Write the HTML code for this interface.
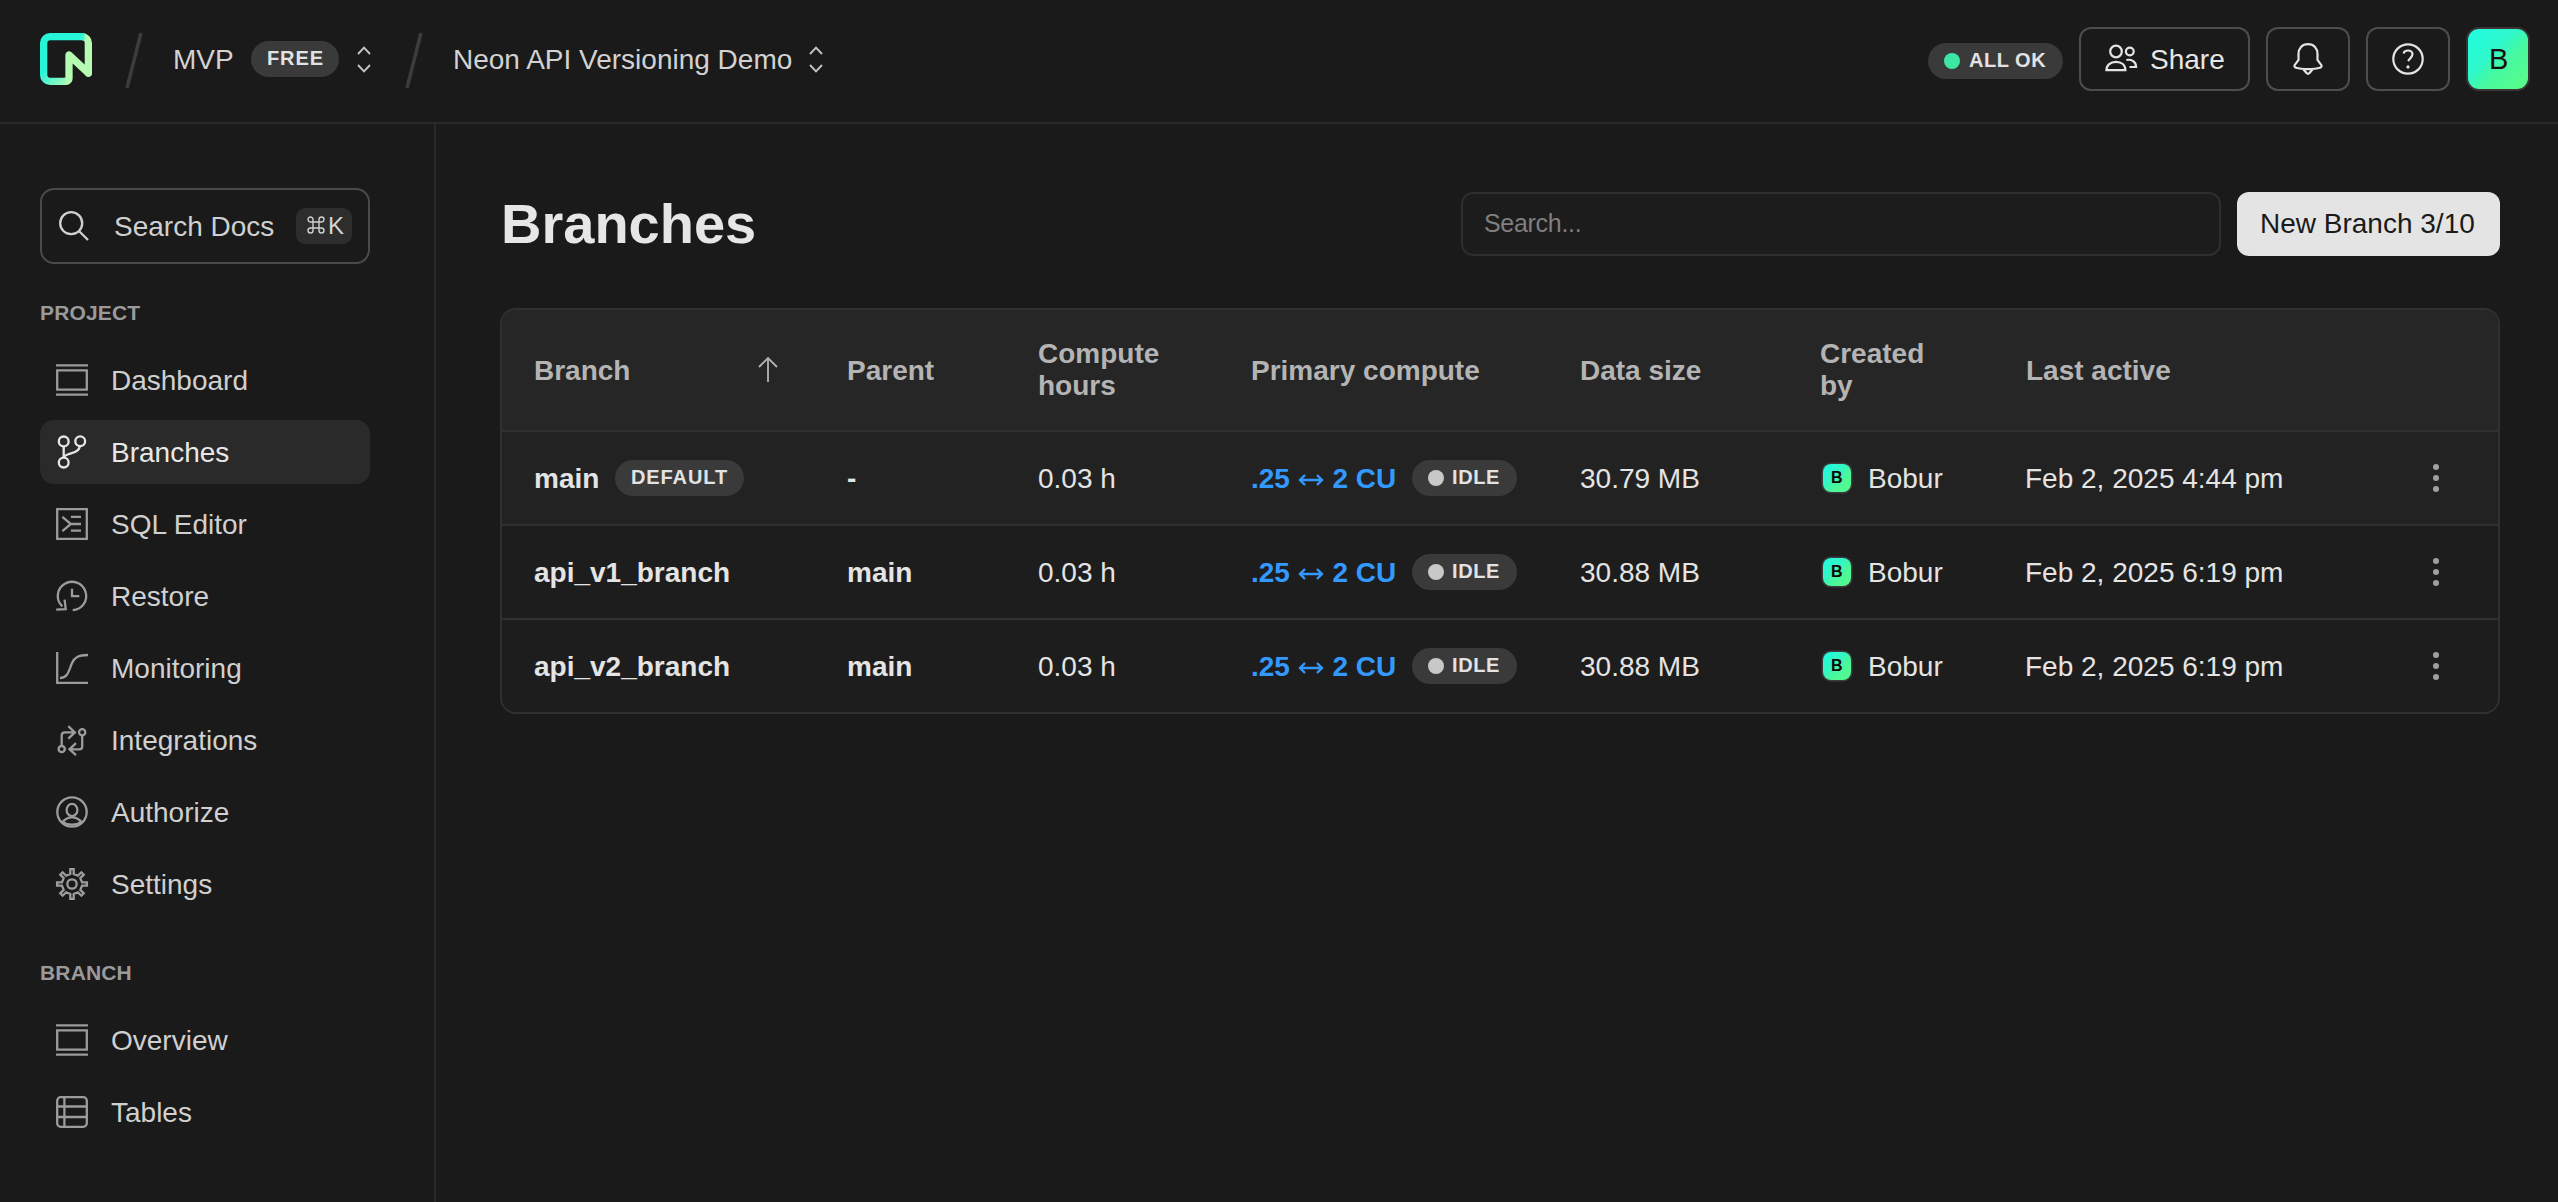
<!DOCTYPE html>
<html><head><meta charset="utf-8"><style>
*{box-sizing:border-box;margin:0;padding:0}
html,body{width:2558px;height:1202px;overflow:hidden;background:#1a1a1a;font-family:"Liberation Sans",sans-serif;color:#e4e4e4}
.abs{position:absolute}
svg{display:block;position:absolute;overflow:visible}
#hdr{position:absolute;left:0;top:0;width:2558px;height:124px;border-bottom:2px solid #2a2a2a}
#side{position:absolute;left:0;top:124px;width:436px;height:1078px;border-right:2px solid #2a2a2a}
.t{position:absolute;white-space:nowrap;line-height:1}
.pill{position:absolute;height:36px;border-radius:18px;background:#3a3a3a}
.bdg{position:absolute;top:8px;font-size:20px;line-height:20px;font-weight:bold;letter-spacing:0.9px;color:#e2e2e2;white-space:nowrap}
.btn{position:absolute;top:27px;height:64px;border:2px solid #4d4d4d;border-radius:12px}
.nav{position:absolute;left:40px;width:330px;height:64px;border-radius:14px}
.nav.act{background:#2a2a2a}
.nav .lbl{position:absolute;left:71px;top:19px;font-size:28px;line-height:28px;color:#d0d0d0;white-space:nowrap}
.nav.act .lbl{color:#e8e8e8}
.nav svg{left:16px;top:16px}
.ic{fill:none;stroke:#9c9c9c;stroke-width:2.3}
.sec{position:absolute;left:40px;font-size:21px;line-height:21px;font-weight:bold;letter-spacing:0.15px;color:#9a9a9a}
.th{position:absolute;font-size:28px;line-height:28px;font-weight:bold;color:#b4b4b4;white-space:nowrap}
.th2{position:absolute;font-size:28px;line-height:32px;font-weight:bold;color:#b4b4b4;white-space:nowrap}
.row{position:absolute;left:0;width:1996px;height:94px;border-bottom:2px solid #303030}
.td{position:absolute;top:33px;font-size:28px;line-height:28px;color:#e4e4e4;white-space:nowrap}
.td.b{font-weight:bold}
.blue{color:#3399ff}
.av{position:absolute;left:1321px;top:32px;width:28px;height:28px;border-radius:8px;background:linear-gradient(135deg,#1ff8e2 0%,#33f6c4 40%,#48f79e 60%,#58fb86 100%);box-shadow:0 0 0 1.5px #3c3c3c}
.dot{position:absolute;left:1931px;width:6px;height:6px;border-radius:3px;background:#a0a0a0}
</style></head><body>
<div id="hdr">
  <svg style="left:40px;top:33px" width="52" height="52" viewBox="0 0 52 52">
    <path d="M42 3.65 A6.35 6.35 0 0 1 48.35 10 V40 L29 22 V45.5 A2.85 2.85 0 0 1 26.15 48.35 H24" fill="none" stroke="#b6fbb2" stroke-width="7.3" stroke-linejoin="round"/>
    <circle cx="48.35" cy="40" r="3.65" fill="#b6fbb2"/>
    <defs><linearGradient id="lgc" gradientUnits="userSpaceOnUse" x1="0" y1="0" x2="52" y2="52"><stop offset="0.40" stop-color="#27f5d8"/><stop offset="0.72" stop-color="#9cf9b8"/></linearGradient></defs><path d="M25.3 48.35 H10 A6.35 6.35 0 0 1 3.65 42 V10 A6.35 6.35 0 0 1 10 3.65 H44.5" fill="none" stroke="url(#lgc)" stroke-width="7.3"/>
  </svg>
  <svg style="left:120px;top:30px" width="28" height="62"><line x1="21" y1="3" x2="7" y2="58" stroke="#3c3c3c" stroke-width="3.5"/></svg>
  <div class="t" style="left:173px;top:46px;font-size:28px;color:#d2d2d2">MVP</div>
  <div class="pill" style="left:251px;top:41px;width:88px"><div class="bdg" style="left:16px;top:7px">FREE</div></div>
  <svg style="left:354px;top:44px" width="20" height="31" viewBox="0 0 20 31"><path d="M4 10 L10 3.6 L16 10 M4 21 L10 27.4 L16 21" fill="none" stroke="#c4c4c4" stroke-width="1.9"/></svg>
  <svg style="left:400px;top:30px" width="28" height="62"><line x1="21" y1="3" x2="7" y2="58" stroke="#3c3c3c" stroke-width="3.5"/></svg>
  <div class="t" style="left:453px;top:46px;font-size:28px;color:#d2d2d2">Neon API Versioning Demo</div>
  <svg style="left:806px;top:44px" width="20" height="31" viewBox="0 0 20 31"><path d="M4 10 L10 3.6 L16 10 M4 21 L10 27.4 L16 21" fill="none" stroke="#c4c4c4" stroke-width="1.9"/></svg>

  <div class="pill" style="left:1928px;top:43px;width:135px">
    <div class="abs" style="left:16px;top:10px;width:16px;height:16px;border-radius:8px;background:#3ee6a4"></div>
    <div class="bdg" style="left:41px;top:7px;letter-spacing:0.5px">ALL OK</div>
  </div>
  <div class="btn" style="left:2079px;width:171px">
    <svg style="left:24px;top:16px" width="34" height="30" viewBox="0 0 34 30"><g fill="none" stroke="#e4e4e4" stroke-width="2.2"><circle cx="11" cy="6.5" r="5.8"/><path d="M1.4 25.2 C1.4 20 5.5 16.8 11 16.8 C16.5 16.8 20.4 20 20.4 25.2 Z"/><circle cx="24.8" cy="6.5" r="3.9"/><path d="M21.3 15 C26.5 14 31.1 16.5 31.1 22 H24.5"/></g></svg>
    <div class="t" style="left:69px;top:17px;font-size:28px;color:#e6e6e6">Share</div>
  </div>
  <div class="btn" style="left:2266px;width:84px">
    <svg style="left:24px;top:14px" width="34" height="34" viewBox="0 0 34 34"><path d="M16 1.2 C10 1.2 6.5 5.5 6.5 11 V17 L2.6 22.2 C2 23.5 3 24.5 4 24.8 C8 26 12 26.1 16 26.1 C20 26.1 24 26 28 24.8 C29 24.5 30 23.5 29.4 22.2 L25.5 17 V11 C25.5 5.5 22 1.2 16 1.2 Z M11.5 26.5 L14.5 30 C15.3 30.8 16.7 30.8 17.5 30 L20.5 26.5" fill="none" stroke="#e4e4e4" stroke-width="2.2"/></svg>
  </div>
  <div class="btn" style="left:2366px;width:84px">
    <svg style="left:23px;top:14px" width="34" height="34" viewBox="0 0 34 34"><g fill="none" stroke="#e4e4e4" stroke-width="2.2"><circle cx="17" cy="16" r="14.7"/><path d="M12.6 10.4 C13 8.5 14.8 7.5 17 7.5 C19.5 7.5 21.5 9.2 21.5 11.3 C21.5 13.5 19.5 15 17 18"/></g><circle cx="17" cy="23.9" r="1.6" fill="#e4e4e4"/></svg>
  </div>
  <div class="abs" style="left:2468px;top:29px;width:60px;height:60px;border-radius:11px;background:linear-gradient(135deg,#1ffde2 0%,#2ff8cc 40%,#47f99f 60%,#5cfc86 100%);box-shadow:0 0 0 2px #3a3434">
    <div class="t" style="left:21px;top:16px;font-size:29px;color:#1a1010">B</div>
  </div>
</div>

<div id="side">
  <div class="abs" style="left:40px;top:64px;width:330px;height:76px;border:2px solid #4a4a4a;border-radius:14px">
    <svg style="left:16px;top:20px" width="34" height="34" viewBox="0 0 34 34"><g fill="none" stroke="#d0d0d0" stroke-width="2.3"><circle cx="13.2" cy="13.2" r="11"/><path d="M21.2 21.2 L30 30"/></g></svg>
    <div class="t" style="left:72px;top:23px;font-size:28px;color:#d0d0d0">Search Docs</div>
    <div class="abs" style="left:254px;top:18px;width:56px;height:36px;border-radius:9px;background:#2d2d2d">
      <svg style="left:9.5px;top:7px" width="20" height="20" viewBox="0 0 20 20"><path d="M7 7 H13 V13 H7 Z M7 7 V4.5 A2.5 2.5 0 1 0 4.5 7 H7 M13 7 H15.5 A2.5 2.5 0 1 0 13 4.5 V7 M13 13 V15.5 A2.5 2.5 0 1 0 15.5 13 H13 M7 13 H4.5 A2.5 2.5 0 1 0 7 15.5 V13" fill="none" stroke="#cfcfcf" stroke-width="1.4"/></svg>
      <div class="t" style="left:32px;top:6px;font-size:24px;color:#d4d4d4">K</div>
    </div>
  </div>
  <div class="sec" style="top:178px">PROJECT</div>
  <div class="nav" style="top:224px"><svg width="32" height="32" viewBox="0 0 32 32" class="ic"><path d="M0 1.3 H32 M1.2 6.4 H30.8 V25.6 H1.2 Z M0 30.7 H32"/></svg><div class="lbl">Dashboard</div></div>
  <div class="nav act" style="top:296px"><svg width="32" height="32" viewBox="0 0 32 32" class="ic" style="stroke:#e6e6e6"><circle cx="7.7" cy="5.4" r="4.9"/><circle cx="24.2" cy="5.3" r="4.9"/><circle cx="7.7" cy="26.6" r="4.9"/><path d="M7.7 10.3 V21.7 M24 10.3 C23 15 19 16 13 18 C10 19 8 20 7.7 21.7"/></svg><div class="lbl">Branches</div></div>
  <div class="nav" style="top:368px"><svg width="32" height="32" viewBox="0 0 32 32" class="ic"><path d="M1.2 1.2 H30.8 V30.8 H1.2 Z M6.3 8.8 L14.9 16 L6.3 23.2 M14.9 8.8 H25 M14.9 16 H25 M14.9 22.6 H25"/></svg><div class="lbl">SQL Editor</div></div>
  <div class="nav" style="top:440px"><svg width="32" height="32" viewBox="0 0 32 32" class="ic"><path d="M16.7 30.2 A14.2 14.2 0 1 0 6.3 26.4 M8.6 19.6 L9.7 29.2 L0.2 29.7 M16 8.7 V16.2 H23.3"/></svg><div class="lbl">Restore</div></div>
  <div class="nav" style="top:512px"><svg width="32" height="32" viewBox="0 0 32 32" class="ic"><path d="M1.2 0 V30.8 H32 M4 26 C12 26 13 18 16 11 C18.5 5.5 22 3 32 3"/></svg><div class="lbl">Monitoring</div></div>
  <div class="nav" style="top:584px"><svg width="32" height="32" viewBox="0 0 32 32" class="ic"><circle cx="26.2" cy="8.3" r="3.1"/><circle cx="5.7" cy="25.1" r="3.1"/><path d="M5.7 22 V11.5 Q5.7 8.3 9 8.3 H18.8 M12.3 2.2 L18.9 8.4 L12.3 14.7 M26.2 11.4 V22.5 Q26.2 25.3 23.4 25.3 H13.4 M20 19.2 L13.5 25.3 L20 31.2"/></svg><div class="lbl">Integrations</div></div>
  <div class="nav" style="top:656px"><svg width="32" height="32" viewBox="0 0 32 32" class="ic"><circle cx="16" cy="16" r="14.7"/><ellipse cx="16" cy="14" rx="5.4" ry="6.1"/><path d="M6.8 25.8 C9.5 22.5 12.5 21.3 16 21.3 C19.5 21.3 22.5 22.5 25.2 25.8 C22.5 27.8 19.5 28.6 16 28.6 C12.5 28.6 9.5 27.8 6.8 25.8 Z"/></svg><div class="lbl">Authorize</div></div>
  <div class="nav" style="top:728px"><svg width="32" height="32" viewBox="0 0 32 32" class="ic"><circle cx="16" cy="16" r="4.7"/><path d="M14.30 5.94 L14.30 1.10 L17.70 1.10 L17.70 5.94 L21.91 7.69 L25.33 4.26 L27.74 6.67 L24.31 10.09 L26.06 14.30 L30.90 14.30 L30.90 17.70 L26.06 17.70 L24.31 21.91 L27.74 25.33 L25.33 27.74 L21.91 24.31 L17.70 26.06 L17.70 30.90 L14.30 30.90 L14.30 26.06 L10.09 24.31 L6.67 27.74 L4.26 25.33 L7.69 21.91 L5.94 17.70 L1.10 17.70 L1.10 14.30 L5.94 14.30 L7.69 10.09 L4.26 6.67 L6.67 4.26 L10.09 7.69 Z"/></svg><div class="lbl">Settings</div></div>
  <div class="sec" style="top:838px">BRANCH</div>
  <div class="nav" style="top:884px"><svg width="32" height="32" viewBox="0 0 32 32" class="ic"><path d="M0 1.3 H32 M1.2 6.4 H30.8 V25.6 H1.2 Z M0 30.7 H32"/></svg><div class="lbl">Overview</div></div>
  <div class="nav" style="top:956px"><svg width="32" height="32" viewBox="0 0 32 32" class="ic"><rect x="1.2" y="1.2" width="29.6" height="29.6" rx="3.5"/><path d="M1.2 10.5 H30.8 M1.2 21 H30.8 M8.4 1.2 V30.8"/></svg><div class="lbl">Tables</div></div>
</div>

<div id="main">
  <div class="t" style="left:501px;top:196px;font-size:56px;font-weight:bold;color:#e6e6e6">Branches</div>
  <div class="abs" style="left:1461px;top:192px;width:760px;height:64px;border:2px solid #2e2e2e;border-radius:12px;background:#1c1c1c">
    <div class="t" style="left:21px;top:17px;font-size:25px;letter-spacing:-0.3px;color:#7f7f7f">Search...</div>
  </div>
  <div class="abs" style="left:2237px;top:192px;width:263px;height:64px;border-radius:12px;background:#e4e4e4">
    <div class="t" style="left:23px;top:18px;font-size:28px;color:#1a1a1a">New Branch 3/10</div>
  </div>
  <div id="tbl" class="abs" style="left:500px;top:308px;width:2000px;height:406px;border:2px solid #303030;border-radius:16px;overflow:hidden;background:#1d1d1d">
    <div class="abs" style="left:0;top:0;width:1996px;height:122px;background:#262626;border-bottom:2px solid #303030">
      <div class="th" style="left:32px;top:47px">Branch</div>
      <svg style="left:254px;top:46px" width="24" height="28" viewBox="0 0 24 28"><path d="M12 2 V26 M3 11 L12 2 L21 11" fill="none" stroke="#b4b4b4" stroke-width="1.8"/></svg>
      <div class="th" style="left:345px;top:47px">Parent</div>
      <div class="th2" style="left:536px;top:28px">Compute<br>hours</div>
      <div class="th" style="left:749px;top:47px">Primary compute</div>
      <div class="th" style="left:1078px;top:47px">Data size</div>
      <div class="th2" style="left:1318px;top:28px">Created<br>by</div>
      <div class="th" style="left:1524px;top:47px">Last active</div>
    </div>
    <div class="row" style="top:122px;background:#222222"><div class="td b" style="left:32px">main</div><div class="pill" style="left:113px;top:28px;width:129px"><div class="bdg" style="left:16px;top:7px">DEFAULT</div></div><div class="td b" style="left:345px">-</div><div class="td" style="left:536px">0.03 h</div><div class="td b blue" style="left:749px">.25 <span style="display:inline-block;width:27px"></span> 2 CU</div><svg style="left:797px;top:41px" width="24" height="14" viewBox="0 0 24 14"><path d="M1 7 H23 M6 2 L1 7 L6 12 M18 2 L23 7 L18 12" fill="none" stroke="#3399ff" stroke-width="2.4"/></svg><div class="pill" style="left:910px;top:28px;width:105px"><div class="abs" style="left:16px;top:10px;width:16px;height:16px;border-radius:8px;background:#c8c8c8"></div><div class="bdg" style="left:40px;top:7px;letter-spacing:0.6px">IDLE</div></div><div class="td" style="left:1078px">30.79 MB</div><div class="av"><div class="t" style="left:8px;top:6px;font-size:16px;font-weight:bold;color:#120808">B</div></div><div class="td" style="left:1366px">Bobur</div><div class="td" style="left:1523px">Feb 2, 2025 4:44 pm</div><div class="dot" style="top:32px"></div><div class="dot" style="top:43px"></div><div class="dot" style="top:54px"></div></div><div class="row" style="top:216px;background:#1d1d1d"><div class="td b" style="left:32px">api_v1_branch</div><div class="td b" style="left:345px">main</div><div class="td" style="left:536px">0.03 h</div><div class="td b blue" style="left:749px">.25 <span style="display:inline-block;width:27px"></span> 2 CU</div><svg style="left:797px;top:41px" width="24" height="14" viewBox="0 0 24 14"><path d="M1 7 H23 M6 2 L1 7 L6 12 M18 2 L23 7 L18 12" fill="none" stroke="#3399ff" stroke-width="2.4"/></svg><div class="pill" style="left:910px;top:28px;width:105px"><div class="abs" style="left:16px;top:10px;width:16px;height:16px;border-radius:8px;background:#c8c8c8"></div><div class="bdg" style="left:40px;top:7px;letter-spacing:0.6px">IDLE</div></div><div class="td" style="left:1078px">30.88 MB</div><div class="av"><div class="t" style="left:8px;top:6px;font-size:16px;font-weight:bold;color:#120808">B</div></div><div class="td" style="left:1366px">Bobur</div><div class="td" style="left:1523px">Feb 2, 2025 6:19 pm</div><div class="dot" style="top:32px"></div><div class="dot" style="top:43px"></div><div class="dot" style="top:54px"></div></div><div class="row" style="top:310px;background:#1d1d1d"><div class="td b" style="left:32px">api_v2_branch</div><div class="td b" style="left:345px">main</div><div class="td" style="left:536px">0.03 h</div><div class="td b blue" style="left:749px">.25 <span style="display:inline-block;width:27px"></span> 2 CU</div><svg style="left:797px;top:41px" width="24" height="14" viewBox="0 0 24 14"><path d="M1 7 H23 M6 2 L1 7 L6 12 M18 2 L23 7 L18 12" fill="none" stroke="#3399ff" stroke-width="2.4"/></svg><div class="pill" style="left:910px;top:28px;width:105px"><div class="abs" style="left:16px;top:10px;width:16px;height:16px;border-radius:8px;background:#c8c8c8"></div><div class="bdg" style="left:40px;top:7px;letter-spacing:0.6px">IDLE</div></div><div class="td" style="left:1078px">30.88 MB</div><div class="av"><div class="t" style="left:8px;top:6px;font-size:16px;font-weight:bold;color:#120808">B</div></div><div class="td" style="left:1366px">Bobur</div><div class="td" style="left:1523px">Feb 2, 2025 6:19 pm</div><div class="dot" style="top:32px"></div><div class="dot" style="top:43px"></div><div class="dot" style="top:54px"></div></div>
  </div>
</div>
</body></html>
